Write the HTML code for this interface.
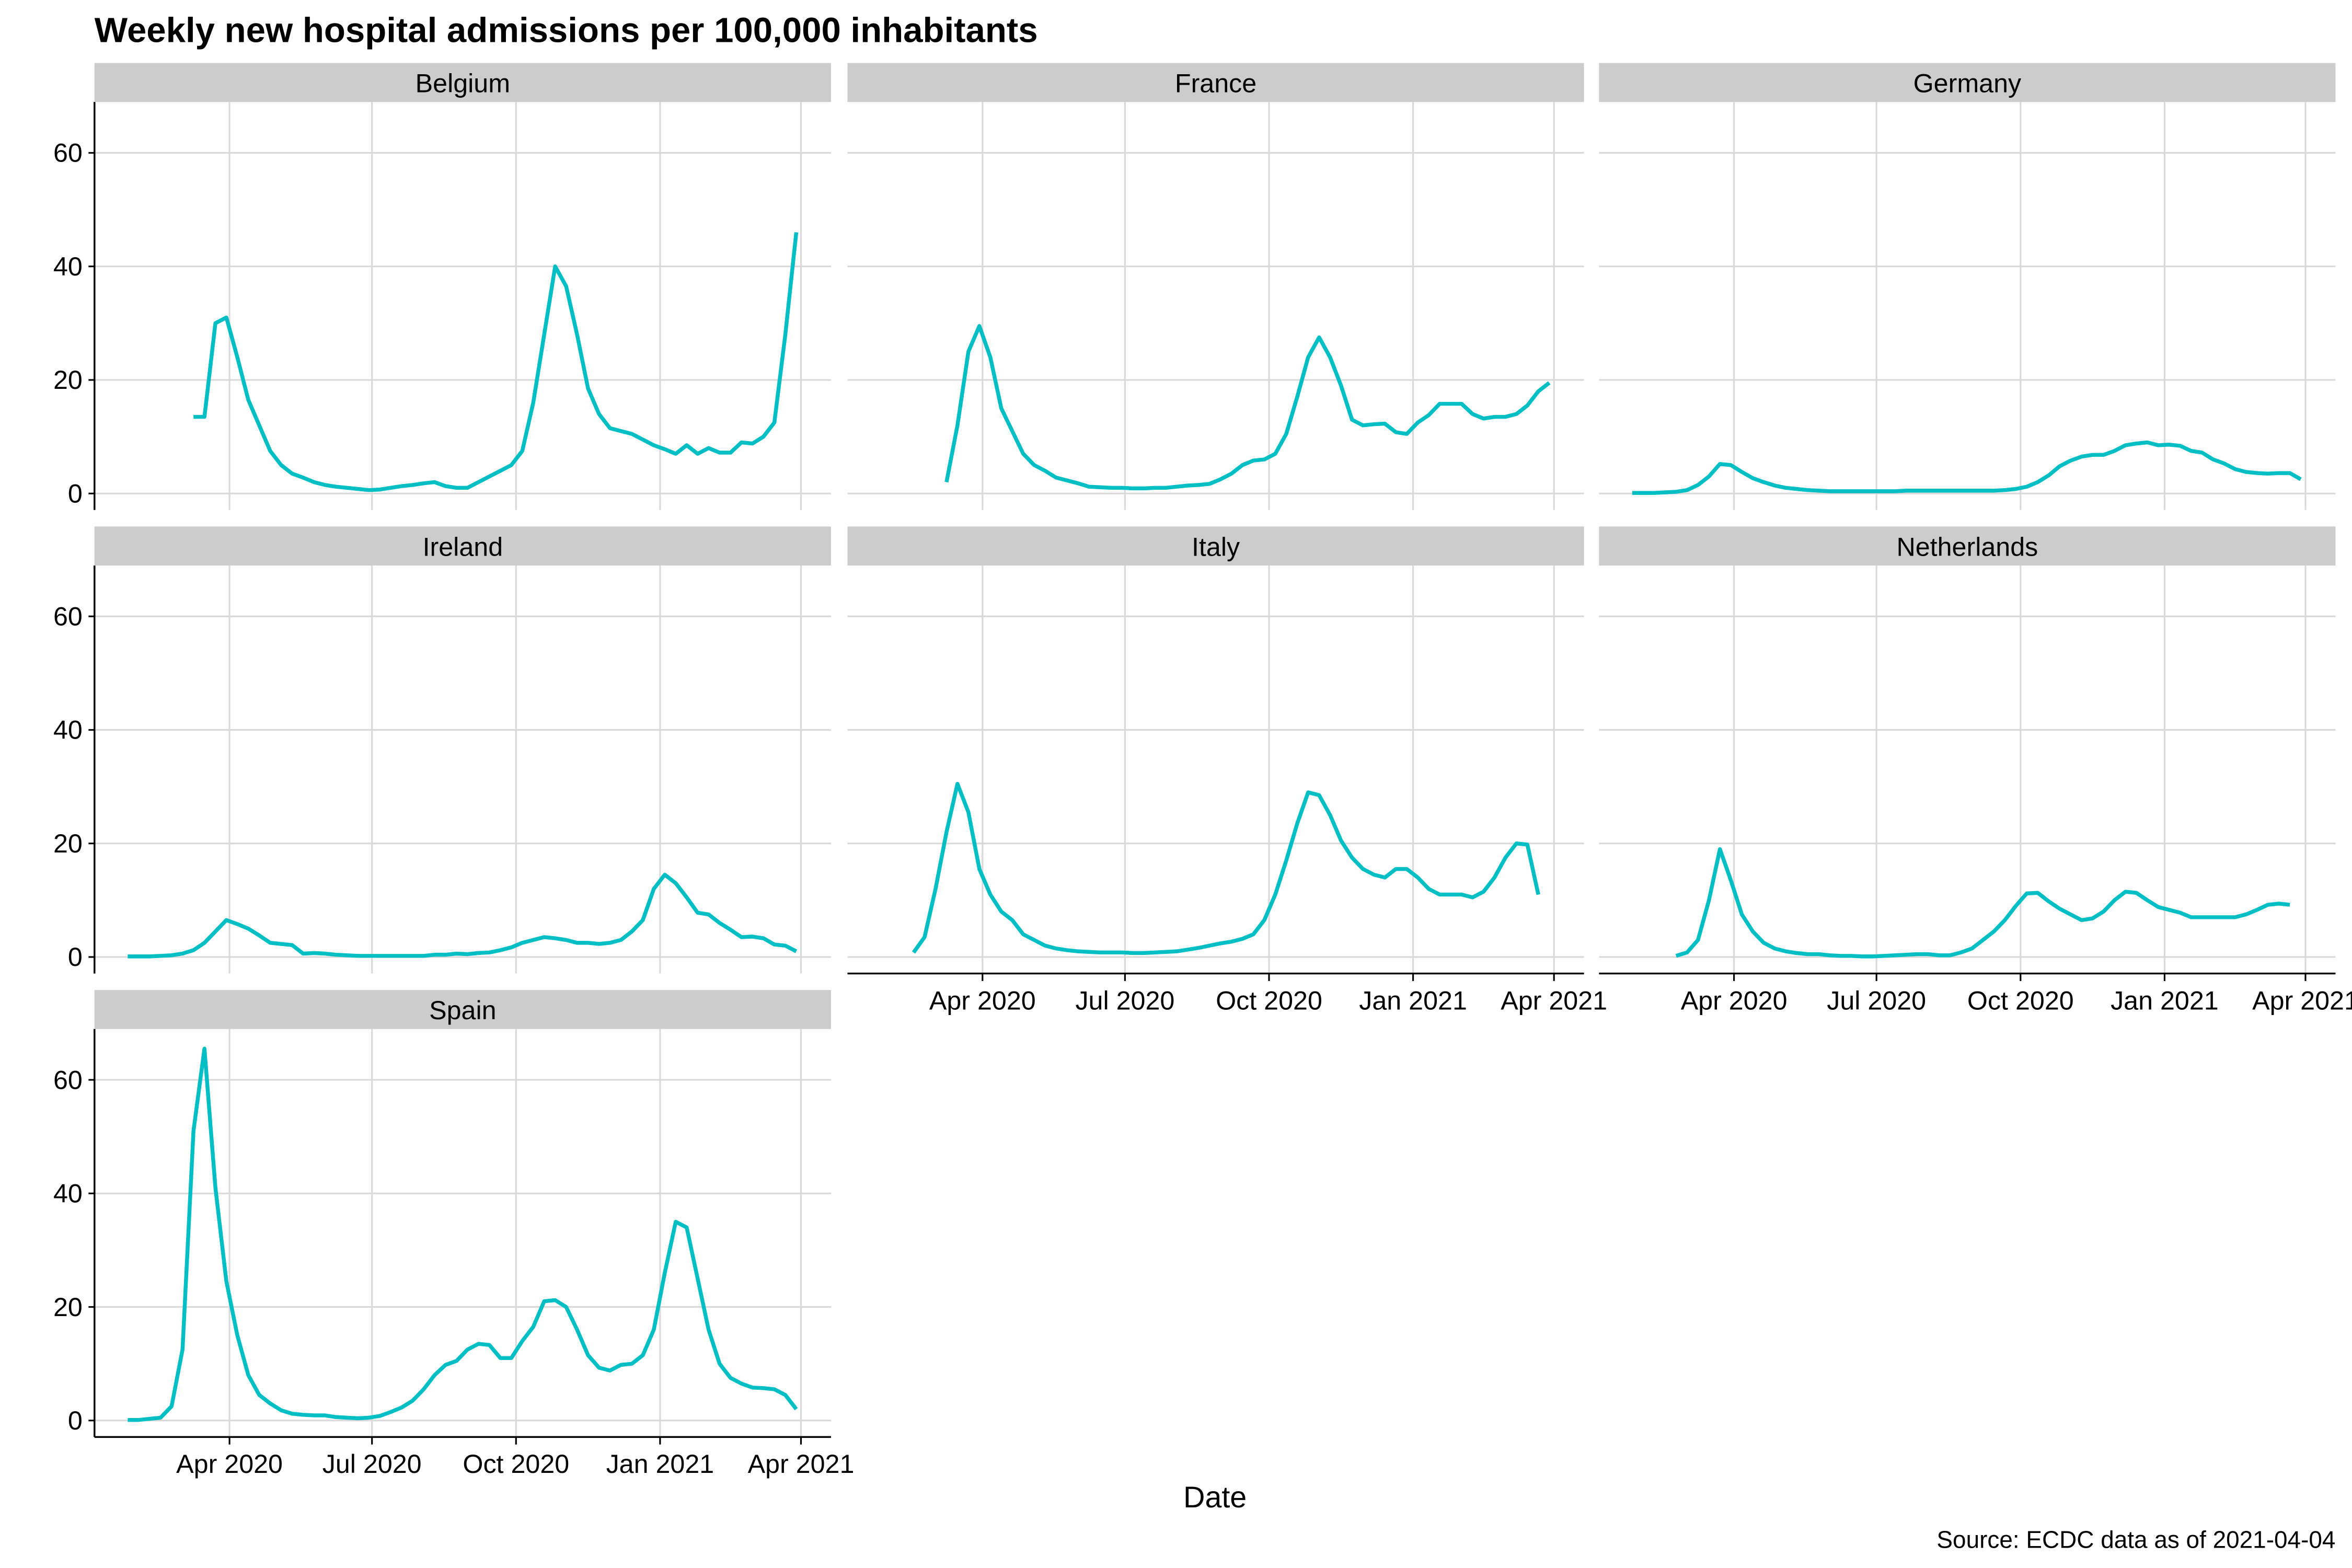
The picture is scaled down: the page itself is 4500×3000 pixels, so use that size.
<!DOCTYPE html>
<html><head><meta charset="utf-8"><style>
html,body{margin:0;padding:0;background:#fff}
svg{display:block}
text{font-family:"Liberation Sans",sans-serif}
</style></head><body>
<svg id="chart" width="4500" height="3000" viewBox="0 0 1568 1045.33" xmlns="http://www.w3.org/2000/svg">
<rect width="1568" height="1046" fill="#fff"/>
<text x="63" y="28" font-size="23.4" font-weight="bold">Weekly new hospital admissions per 100,000 inhabitants</text>
<text x="810" y="1005" font-size="20" text-anchor="middle">Date</text>
<text x="1557" y="1032" font-size="16" text-anchor="end">Source: ECDC data as of 2021-04-04</text>
<g id="panels"></g>
</svg>
<script>
const countries = ["Belgium","France","Germany","Ireland","Italy","Netherlands","Spain"];
const startDate = "2020-01-27";
const yTicks = [0,20,40,60];
const xTickDates = ["2020-04-01","2020-07-01","2020-10-01","2021-01-01","2021-04-01"];
const xTickLabels = ["Apr 2020","Jul 2020","Oct 2020","Jan 2021","Apr 2021"];
const N = null;
const belgium = [N,N,N,N,N,N,13.5,13.5,30,31,24,16.5,12,7.5,5,3.5,2.8,2,1.5,1.2,1,0.8,0.6,0.7,1,1.3,1.5,1.8,2,1.3,1,1,2,3,4,5,7.5,16,28,40,36.5,28,18.5,14,11.5,11,10.5,9.5,8.5,7.8,7,8.5,7,8,7.2,7.2,9,8.8,10,12.5,28,46];
const france = [N,N,N,N,N,N,2,12,25,29.5,24,15,11,7,5,4,2.8,2.3,1.8,1.2,1.1,1,1,0.9,0.9,1,1,1.2,1.4,1.5,1.7,2.5,3.5,5,5.8,6,7,10.5,17,24,27.5,24,19,13,12,12.2,12.3,10.8,10.5,12.5,13.8,15.8,15.8,15.8,14,13.2,13.5,13.5,14,15.5,18,19.5];
const germany = [0.1,0.1,0.1,0.2,0.3,0.6,1.5,3,5.2,5,3.8,2.7,2,1.4,1,0.8,0.6,0.5,0.4,0.4,0.4,0.4,0.4,0.4,0.4,0.5,0.5,0.5,0.5,0.5,0.5,0.5,0.5,0.5,0.6,0.8,1.2,2,3.2,4.8,5.8,6.5,6.8,6.8,7.5,8.5,8.8,9,8.5,8.6,8.4,7.5,7.2,6,5.3,4.3,3.8,3.6,3.5,3.6,3.6,2.5];
const ireland = [0.1,0.1,0.1,0.2,0.3,0.6,1.2,2.5,4.5,6.5,5.8,5,3.8,2.5,2.3,2.1,0.6,0.7,0.6,0.4,0.3,0.2,0.2,0.2,0.2,0.2,0.2,0.2,0.4,0.4,0.6,0.5,0.7,0.8,1.2,1.7,2.5,3,3.5,3.3,3,2.5,2.5,2.3,2.5,3,4.5,6.5,12,14.5,13,10.5,7.8,7.5,6,4.8,3.5,3.6,3.3,2.2,2,1];
const italy = [N,N,N,0.8,3.5,12,22,30.5,25.5,15.5,11,8,6.5,4,3,2,1.5,1.2,1,0.9,0.8,0.8,0.8,0.7,0.7,0.8,0.9,1,1.3,1.6,2,2.4,2.7,3.2,4,6.5,11,17,23.5,29,28.5,25,20.5,17.5,15.5,14.5,14,15.5,15.5,14,12,11,11,11,10.5,11.5,14,17.5,20,19.8,11];
const netherlands = [N,N,N,N,0.2,0.8,3,10,19,13.5,7.5,4.5,2.5,1.5,1,0.7,0.5,0.5,0.3,0.2,0.2,0.1,0.1,0.2,0.3,0.4,0.5,0.5,0.3,0.3,0.8,1.5,3,4.5,6.5,9,11.2,11.3,9.8,8.5,7.5,6.5,6.8,8,10,11.5,11.3,10,8.8,8.3,7.8,7,7,7,7,7,7.5,8.3,9.2,9.4,9.2];
const spain = [0.1,0.1,0.3,0.5,2.5,12.5,51,65.5,41,24.5,15,8,4.5,3,1.8,1.2,1,0.9,0.9,0.6,0.5,0.4,0.5,0.8,1.5,2.3,3.5,5.5,8,9.8,10.5,12.5,13.5,13.3,11,11,14,16.5,21,21.2,20,16,11.5,9.3,8.8,9.8,10,11.5,16,26,35,34,25,16,10,7.5,6.5,5.8,5.7,5.5,4.5,2];
const series = [belgium,france,germany,ireland,italy,netherlands,spain];

const NS = "http://www.w3.org/2000/svg";
const root = document.getElementById("panels");
const colX = [63,565,1066], panelW = 491;
const rowTop = [42,351,660], stripH = 26, plotH = 272;
const DAY = 86400000, ref = Date.parse("2020-04-01");
function xScale(dateMs, col){ return colX[col] + 90 + (dateMs - ref)/DAY*1.0438; }
function yScale(v, row){ return rowTop[row] + stripH + 261 - v*3.785; }
function mk(tag, attrs, parent){ const e=document.createElementNS(NS,tag); for(const k in attrs) e.setAttribute(k,attrs[k]); parent.appendChild(e); return e; }
const start = Date.parse(startDate);

countries.forEach((name,i)=>{
  const col=i%3,row=Math.floor(i/3);
  const g=mk("g",{},root);
  
  
  const x0=colX[col], top=rowTop[row]+stripH;
  const strip=mk("rect",{x:x0,y:rowTop[row],width:panelW,height:stripH,fill:"#cccccc"},g);
  
  
  const st=mk("text",{x:x0+panelW/2,y:rowTop[row]+19.5,"font-size":17.5,"text-anchor":"middle"},g);
  st.textContent=name;
  
  
  yTicks.forEach(t=>{
    const gl=mk("line",{x1:x0,x2:x0+panelW,y1:yScale(t,row),y2:yScale(t,row),stroke:"#d9d9d9","stroke-width":1.1},g);
    
    
  });
  xTickDates.forEach(d=>{
    const x=xScale(Date.parse(d),col);
    const gl=mk("line",{x1:x,x2:x,y1:top,y2:top+plotH,stroke:"#d9d9d9","stroke-width":1.1},g);
    
    
  });
  if(col===0){
    const ax=mk("line",{x1:x0,x2:x0,y1:top,y2:top+plotH,stroke:"#000","stroke-width":1.2},g);
    
    
    yTicks.forEach(t=>{
      const y=yScale(t,row);
      mk("line",{x1:x0-4,x2:x0,y1:y,y2:y,stroke:"#000","stroke-width":1.1},g);
      const tl=mk("text",{x:x0-8,y:y+6,"font-size":17.5,"text-anchor":"end"},g);
      tl.textContent=t;
      
      
    });
  }
  const bottom = (i>=4);
  if(bottom){
    const ay=top+plotH;
    const ax=mk("line",{x1:x0,x2:x0+panelW,y1:ay,y2:ay,stroke:"#000","stroke-width":1.2},g);
    
    
    xTickDates.forEach((d,k)=>{
      const x=xScale(Date.parse(d),col);
      mk("line",{x1:x,x2:x,y1:ay,y2:ay+5,stroke:"#000","stroke-width":1.1},g);
      const tl=mk("text",{x:x,y:ay+24,"font-size":17.5,"text-anchor":"middle"},g);
      tl.textContent=xTickLabels[k];
      
      
    });
  }
  const vals=series[i];
  let d="",pen=false;
  vals.forEach((v,k)=>{
    if(v===null){pen=false;return;}
    const x=xScale(start+k*7*DAY,col), y=yScale(v,row);
    d+=(pen?"L":"M")+x.toFixed(2)+","+y.toFixed(2);
    pen=true;
  });
  const p=mk("path",{d:d,fill:"none",stroke:"#00bfc4","stroke-width":2.6,"stroke-linejoin":"round"},g);
  
  
});
</script>
</body></html>
